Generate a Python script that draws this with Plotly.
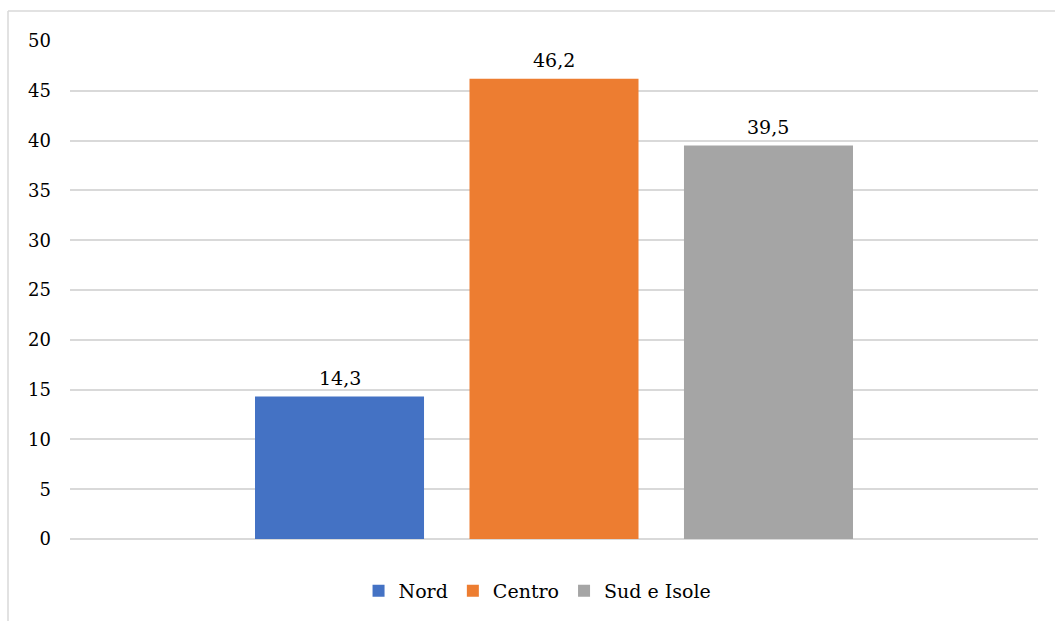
import plotly.graph_objects as go

# Share of respondents by macro-area
series_names = ["Nord", "Centro", "Sud e Isole"]
series_values = [14.3, 46.2, 39.5]
series_colors = ["#4472C4", "#ED7D31", "#A5A5A5"]
y_ticks = [0, 5, 10, 15, 20, 25, 30, 35, 40, 45, 50]

SERIF = "DejaVu Serif"
W, H = 1055, 621
L, R, T, B = 70, 17, 41, 82

fig = go.Figure()
for name, val, col in zip(series_names, series_values, series_colors):
    fig.add_trace(go.Bar(
        name=name, x=[name], y=[val],
        marker=dict(color=col, line=dict(width=0)),
        cliponaxis=False,
    ))
    # value label above the bar
    fig.add_annotation(
        x=name, y=val, text=f"{val:.1f}".replace(".", ","),
        showarrow=False, yanchor="bottom", yshift=6,
        font=dict(family=SERIF, size=19, color="#000000"),
    )

# light chart-area frame (left and top edges)
pw, ph = W - L - R, H - T - B
fx0 = (8 - L) / pw
fy1 = (H - B - 11) / ph
fy0 = (H - B - H) / ph
fx1 = (W - L) / pw
frame = dict(type="line", xref="paper", yref="paper",
             line=dict(color="#D9D9D9", width=1.5))
fig.add_shape(x0=fx0, x1=fx0, y0=fy0, y1=fy1, **frame)
fig.add_shape(x0=fx0, x1=fx1, y0=fy1, y1=fy1, **frame)

fig.update_layout(
    width=W, height=H,
    margin=dict(l=L, r=R, t=T, b=B, autoexpand=False),
    paper_bgcolor="white", plot_bgcolor="white",
    bargap=0.212,
    font=dict(family=SERIF, size=19, color="#000000"),
    showlegend=True,
    legend=dict(orientation="h", x=0.483, xanchor="center", y=-0.066, yanchor="top",
                font=dict(family=SERIF, size=19, color="#000000"),
                itemwidth=30, tracegroupgap=0),
    xaxis=dict(range=[-1.2565, 3.2565], showticklabels=False, showgrid=False,
               zeroline=False, showline=False, ticks=""),
    yaxis=dict(range=[0, 50], tickvals=y_ticks, showgrid=True,
               gridcolor="#D9D9D9", gridwidth=1.5, zeroline=True,
               zerolinecolor="#D9D9D9", zerolinewidth=1.5, showline=False,
               ticks="", ticklabelstandoff=18,
               tickfont=dict(family=SERIF, size=18, color="#000000")),
)

fig.write_html("out.html")
